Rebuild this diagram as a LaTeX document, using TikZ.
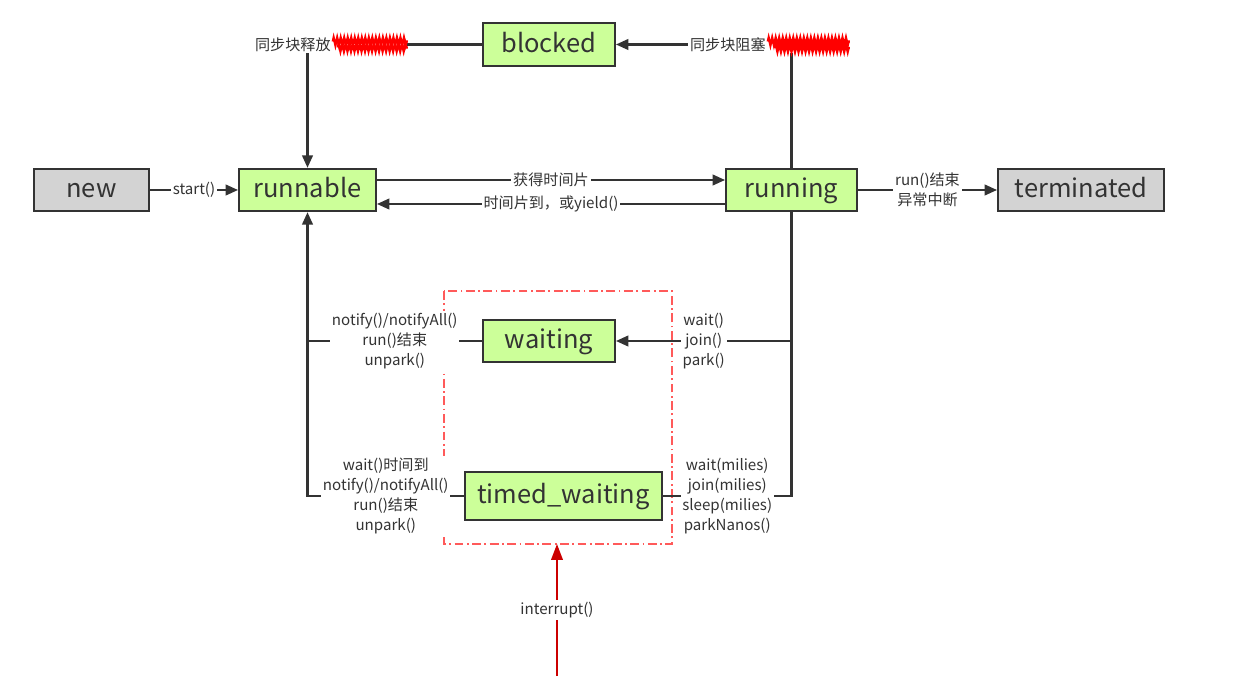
\documentclass[tikz,border=0pt]{standalone}
\usepackage{fontspec}
\setmainfont{Noto Sans CJK SC}
\usepackage{tikz}
\usepackage{xcolor}
\usetikzlibrary{arrows.meta, decorations.pathmorphing}
\definecolor{stateGreen}{RGB}{204,255,153}
\definecolor{stateGray}{RGB}{211,211,211}
\definecolor{stateInk}{RGB}{51,51,51}
\definecolor{interruptRed}{RGB}{204,0,0}
\definecolor{boxRed}{RGB}{255,90,90}

\begin{document}
\begin{tikzpicture}[
      state/.style={draw=stateInk, line width=1.1pt, minimum height=0.85cm, inner sep=0pt,
      text height=0.92em, text depth=0.06em, text=stateInk, font=\fontsize{14.5}{16}\selectfont},
      live/.style={state, fill=stateGreen},
      dead/.style={state, fill=stateGray},
      lbl/.style={fill=white, inner sep=1pt, text=stateInk, align=center, font=\fontsize{8.6}{11.4}\selectfont},
      wire/.style={draw=stateInk, line width=1.2pt},
      arrow/.style={wire, -{Triangle[length=7pt,width=6pt]}},
      scribble/.style={draw=red, line width=1.3pt, decorate, decoration={zigzag, segment length=2pt, amplitude=2.2pt}}
    ]
    \useasboundingbox (0,0) rectangle (24.9,-13.86);

    \node[live, minimum width=2.64cm] (blocked) at (10.98,-0.89) {blocked};
    \node[dead, minimum width=2.3cm] (new) at (1.83,-3.8) {new};
    \node[live, minimum width=2.74cm] (runnable) at (6.15,-3.8) {runnable};
    \node[live, minimum width=2.62cm] (running) at (15.83,-3.8) {running};
    \node[dead, minimum width=3.32cm] (terminated) at (21.62,-3.8) {terminated};
    \node[live, minimum width=2.64cm] (waiting) at (10.98,-6.82) {waiting};
    \node[live, minimum width=3.94cm, minimum height=0.96cm] (timed) at (11.27,-9.92) {timed\_waiting};

    \draw[draw=boxRed, line width=0.6pt, dash pattern=on 5pt off 2pt on 1pt off 2pt]
      (8.88,-5.82) rectangle (13.44,-10.88);

    \draw[arrow] (new) -- node[lbl] {start()} (runnable);
    \draw[arrow] ([yshift=0.2cm]runnable.east) -- node[lbl] {获得时间片} ([yshift=0.2cm]running.west);
    \draw[arrow] ([yshift=-0.28cm]running.west) -- node[lbl] {时间片到，或yield()} ([yshift=-0.28cm]runnable.east);
    \draw[arrow] (running) -- node[lbl] {run()结束\\异常中断} (terminated);

    \draw[arrow] (blocked.west) -| (runnable.north);
    \node[lbl, anchor=west] (release) at (5.06,-0.89) {同步块释放\hspace{1.5cm}};
    \draw[scribble] ([xshift=-1.5cm,yshift=0.06cm]release.east) -- ([yshift=0.06cm]release.east);
    \draw[scribble] ([xshift=-1.4cm,yshift=-0.06cm]release.east) -- ([yshift=-0.06cm]release.east);

    \draw[arrow] (running.north) |- (blocked.east);
    \node[lbl, anchor=west] (block) at (13.76,-0.89) {同步块阻塞\hspace{1.64cm}};
    \draw[scribble] ([xshift=-1.64cm,yshift=0.06cm]block.east) -- ([yshift=0.06cm]block.east);
    \draw[scribble] ([xshift=-1.5cm,yshift=-0.07cm]block.east) -- ([yshift=-0.07cm]block.east);

    \draw[wire] (running.south) |- node[lbl, pos=0.75] {wait(milies)\\join(milies)\\sleep(milies)\\parkNanos()} (timed.east);
    \draw[arrow] (waiting.east -| running) -- node[lbl] {wait()\\join()\\park()} (waiting.east);

    \draw[arrow] (timed.west) -- node[lbl] {wait()时间到\\notify()/notifyAll()\\run()结束\\unpark()} (timed.west -| runnable) -- (runnable.south);
    \draw[wire] (waiting.west) -- node[lbl] {notify()/notifyAll()\\run()结束\\unpark()} (waiting.west -| runnable);

    \coordinate (irq) at (11.14,-13.52);
    \draw[draw=interruptRed, line width=1.2pt, -{Triangle[length=9pt,width=6.5pt]}]
      (irq) -- node[lbl] {interrupt()} (11.14,-10.88);
  \end{tikzpicture}
\end{document}
